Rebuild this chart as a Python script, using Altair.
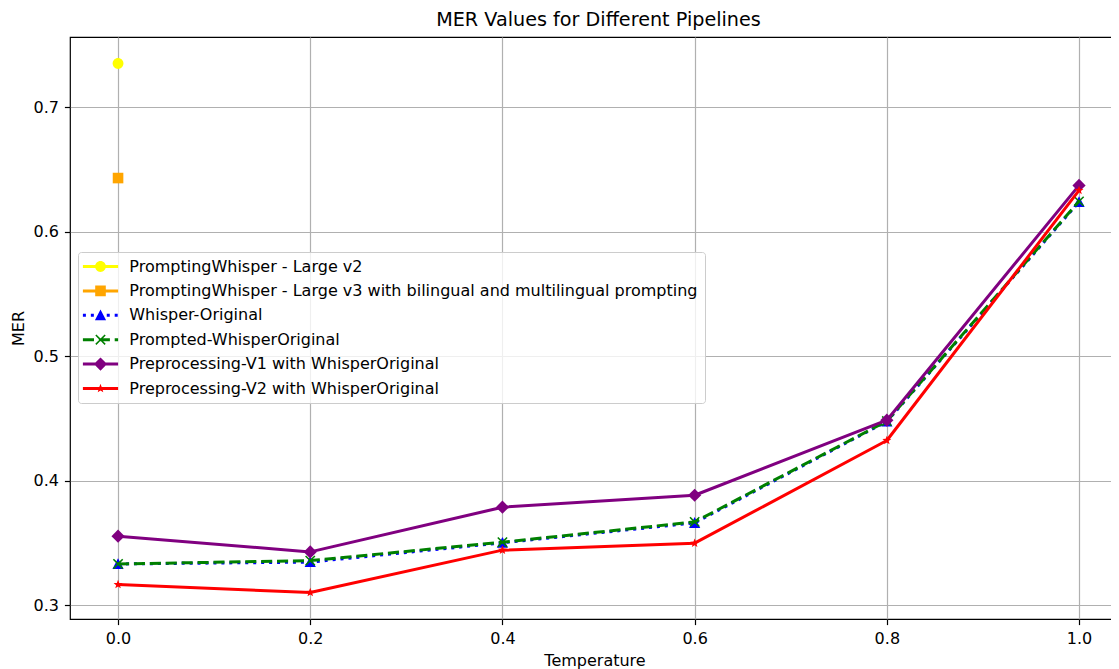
import math
import altair as alt
import pandas as pd

# ---------------- data ----------------
temperature = [0.0, 0.2, 0.4, 0.6, 0.8, 1.0]
large_v2_temperature = [0.0]
large_v2_mer = [0.735]
large_v3_temperature = [0.0]
large_v3_mer = [0.643]
whisper_original_mer = [0.333, 0.3345, 0.350, 0.366, 0.4475, 0.6237]
prompted_whisper_original_mer = [0.333, 0.3357, 0.3505, 0.3668, 0.4478, 0.6243]
preprocessing_v1_mer = [0.3553, 0.3427, 0.3786, 0.3882, 0.4485, 0.6371]
preprocessing_v2_mer = [0.3165, 0.3101, 0.3441, 0.3497, 0.4322, 0.6331]

series_names = [
    "PromptingWhisper - Large v2",
    "PromptingWhisper - Large v3 with bilingual and multilingual prompting",
    "Whisper-Original",
    "Prompted-WhisperOriginal",
    "Preprocessing-V1 with WhisperOriginal",
    "Preprocessing-V2 with WhisperOriginal",
]
series_colors = ["yellow", "orange", "blue", "green", "purple", "red"]

x_ticks = [0.0, 0.2, 0.4, 0.6, 0.8, 1.0]
y_ticks = [0.3, 0.4, 0.5, 0.6, 0.7]

series_x = [large_v2_temperature, large_v3_temperature, temperature,
            temperature, temperature, temperature]
series_y = [large_v2_mer, large_v3_mer, whisper_original_mer,
            prompted_whisper_original_mer, preprocessing_v1_mer, preprocessing_v2_mer]

rows = []
for name, xs, ys in zip(series_names, series_x, series_y):
    for xv, yv in zip(xs, ys):
        rows.append({"series": name, "temperature": xv, "mer": yv})
df = pd.DataFrame(rows)

# ---------------- marker / handle paths (pixel units, used with size=4) ----------------
def rect(x0, x1, h):
    return f"M{x0:.2f},{-h:.2f}H{x1:.2f}V{h:.2f}H{x0:.2f}Z"

def circle(r):
    return (f"M{r:.2f},0A{r:.2f},{r:.2f} 0 1,1 {-r:.2f},0"
            f"A{r:.2f},{r:.2f} 0 1,1 {r:.2f},0Z")

def square(h):
    return rect(-h, h, h)

def diamond(h):
    return f"M0,{-h:.2f}L{h:.2f},0L0,{h:.2f}L{-h:.2f},0Z"

def triangle(w, top, bottom):
    return f"M0,{-top:.2f}L{w:.2f},{bottom:.2f}L{-w:.2f},{bottom:.2f}Z"

def star(R, r):
    pts = []
    for k in range(10):
        ang = math.radians(-90 + 36 * k)
        rad = R if k % 2 == 0 else r
        pts.append(f"{rad * math.cos(ang):.2f},{rad * math.sin(ang):.2f}")
    return "M" + "L".join(pts) + "Z"

def xmark(a, d):
    pts = [(-a, -a + d), (-a + d, -a), (0, -d), (a - d, -a), (a, -a + d), (d, 0),
           (a, a - d), (a - d, a), (0, d), (-a + d, a), (-a, a - d), (-d, 0)]
    return "M" + "L".join(f"{px:.2f},{py:.2f}" for px, py in pts) + "Z"

LW = 3.0
HALF = 17.6
markers = [
    circle(5.4),
    square(5.3),
    triangle(5.6, 5.8, 5.0),
    xmark(5.2, 1.1),
    diamond(6.6),
    star(4.7, 2.0),
]
# matplotlib ':' and '--' patterns scaled by the line width (2:1 periods)
dashes = [None, None, [1.0 * LW, 1.65 * LW], [3.7 * LW, 1.6 * LW], None, None]

def handle(dash):
    if dash is None:
        return rect(-HALF, HALF, LW / 2)
    segs = []
    pos = -HALF
    on, off = dash
    while pos < HALF:
        end = min(pos + on, HALF)
        segs.append(rect(pos, end, LW / 2))
        pos += on + off
    return "".join(segs)

legend_paths = [handle(d) + m for d, m in zip(dashes, markers)]

# ---------------- encodings ----------------
x_enc = alt.X(
    "temperature:Q",
    scale=alt.Scale(domain=[-0.05, 1.0416], nice=False, zero=False),
    axis=alt.Axis(values=x_ticks, format=".1f", title="Temperature", grid=True,
                  labelPadding=5.4, titleY=46, titleBaseline="alphabetic",
                  labelFlush=False, labelOverlap=False),
)
y_enc = alt.Y(
    "mer:Q",
    scale=alt.Scale(domain=[0.2888, 0.7563], nice=False, zero=False),
    axis=alt.Axis(values=y_ticks, format=".1f", title="MER", grid=True,
                  labelPadding=6, titleX=-47, titleBaseline="alphabetic",
                  labelFlush=False, labelOverlap=False),
)

layers = []
for i, name in enumerate(series_names):
    base = alt.Chart(df).transform_filter(alt.datum.series == name)
    if len(series_x[i]) > 1:
        line_kwargs = dict(color=series_colors[i], strokeWidth=LW, strokeJoin="round")
        if dashes[i] is not None:
            line_kwargs["strokeDash"] = dashes[i]
        layers.append(base.mark_line(**line_kwargs).encode(x=x_enc, y=y_enc))
    layers.append(
        base.mark_point(filled=True, shape=markers[i], size=4, opacity=1,
                        color=series_colors[i]).encode(x=x_enc, y=y_enc)
    )

leg = alt.Legend(
    title=None, orient="none", legendX=8, legendY=215,
    labelFont="DejaVu Sans", labelFontSize=16, labelColor="black", labelLimit=900,
    symbolSize=4, symbolStrokeWidth=0, symbolOpacity=1,
    symbolOffset=8, labelOffset=20.8, rowPadding=8.4,
    padding=6.5, fillColor="rgba(255,255,255,0.8)", strokeColor="#cccccc",
    cornerRadius=3,
)
legend_layer = alt.Chart(df).mark_point(filled=True, opacity=0, size=4).encode(
    x=x_enc, y=y_enc,
    color=alt.Color("series:N", scale=alt.Scale(domain=series_names, range=series_colors), legend=leg),
    shape=alt.Shape("series:N", scale=alt.Scale(domain=series_names, range=legend_paths), legend=leg),
)
layers.append(legend_layer)

chart = alt.layer(*layers).properties(
    width=1049,
    height=582,
    title=alt.TitleParams(
        "MER Values for Different Pipelines", font="DejaVu Sans", fontSize=19.2,
        fontWeight="normal", color="black", anchor="middle", frame="group",
        baseline="alphabetic", offset=-8, dx=4,
    ),
    autosize=alt.AutoSizeParams(type="none"),
    padding={"left": 62, "top": 29, "right": -8, "bottom": 50},
).configure_view(
    stroke="black", strokeWidth=1.2
).configure_axis(
    labelFont="DejaVu Sans", labelFontSize=16, labelColor="black",
    titleFont="DejaVu Sans", titleFontSize=16, titleColor="black", titleFontWeight="normal",
    gridColor="#b0b0b0", gridWidth=1.2, tickColor="black", tickSize=5.6, tickWidth=1.2,
    domain=False,
)

chart.save("out.html", embed_options={"renderer": "svg", "actions": False})
